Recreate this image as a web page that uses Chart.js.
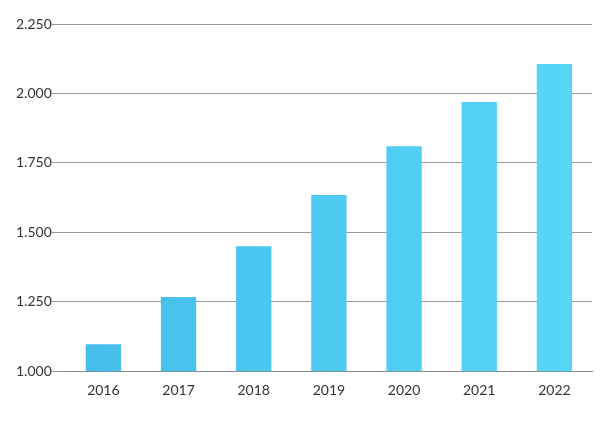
<!DOCTYPE html>
<html><head><meta charset="utf-8">
<script src="https://cdn.jsdelivr.net/npm/chart.js@4"></script>
<style>html,body{margin:0;padding:0;background:#fff}#w{width:614px;height:423px}</style>
</head><body><div id="w"><canvas id="c"></canvas></div>
<script>
const categories = ["2016","2017","2018","2019","2020","2021","2022"];
const values = [1097, 1267, 1450, 1634, 1810, 1969, 2106];
const yTicks = [1000, 1250, 1500, 1750, 2000, 2250];

function fmt(v){ return v.toLocaleString('de-DE'); }

new Chart(document.getElementById('c'), {
  type: 'bar',
  data: { labels: categories, datasets: [{ data: values,
    backgroundColor: (ctx) => {
      const ca = ctx.chart.chartArea; if (!ca) return '#4cc9f0';
      const g = ctx.chart.ctx.createLinearGradient(ca.left, 0, ca.right, 0);
      g.addColorStop(0, '#45BCEA'); g.addColorStop(1, '#56D7F8'); return g;
    },
    barPercentage: 0.47, categoryPercentage: 1 }] },
  options: {
    responsive: true, maintainAspectRatio: false, animation: false,
    layout: { padding: { left: 16, right: 22, top: 24, bottom: 21 } },
    plugins: { legend: { display: false }, tooltip: { enabled: false } },
    scales: {
      x: { grid: { display: false }, border: { color: '#888' },
           ticks: { color: '#333', font: { family: 'Lato', size: 14 } } },
      y: { min: 1000, max: 2250, afterBuildTicks: (s) => { s.ticks = yTicks.map(v => ({ value: v })); },
           grid: { color: '#999', drawTicks: true, tickLength: 14 }, border: { display: false },
           ticks: { color: '#333', font: { family: 'Lato', size: 14 }, padding: 0, callback: (v) => fmt(v) } }
    }
  }
});
</script></body></html>
